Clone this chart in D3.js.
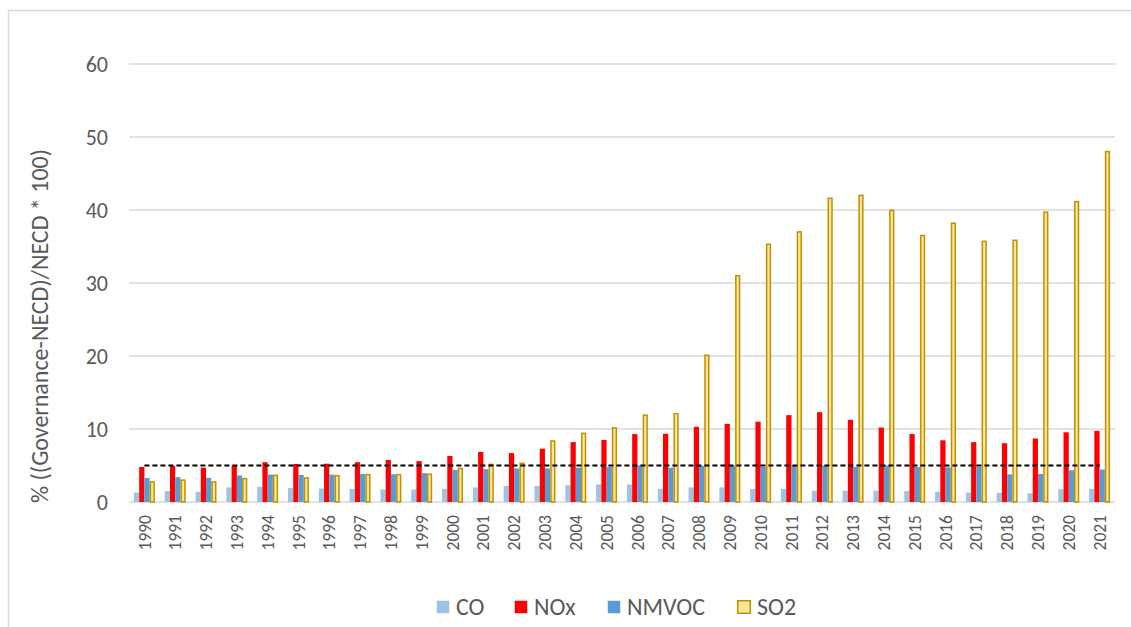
<!DOCTYPE html>
<html>
<head>
<meta charset="utf-8">
<script src="https://cdn.jsdelivr.net/npm/d3@7"></script>
<style>
body{margin:0;background:#fff;font-family:Calibri,Carlito,Lato,sans-serif;}
</style>
</head>
<body>
<div id="chart"></div>
<script>
const years=["1990","1991","1992","1993","1994","1995","1996","1997","1998","1999","2000","2001","2002","2003","2004","2005","2006","2007","2008","2009","2010","2011","2012","2013","2014","2015","2016","2017","2018","2019","2020","2021"];
const co=[1.3,1.5,1.4,2.0,2.1,1.9,1.85,1.8,1.7,1.7,1.8,2.0,2.2,2.2,2.3,2.4,2.4,1.8,2.0,2.0,1.8,1.8,1.55,1.55,1.55,1.5,1.4,1.3,1.25,1.2,1.75,1.8];
const nox=[4.8,4.95,4.7,5.0,5.45,5.2,5.25,5.45,5.75,5.6,6.3,6.85,6.7,7.3,8.2,8.5,9.3,9.35,10.3,10.7,11.0,11.9,12.3,11.25,10.2,9.3,8.45,8.2,8.05,8.7,9.55,9.75];
const nmvoc=[3.3,3.4,3.3,3.65,3.75,3.7,3.75,3.85,3.8,3.95,4.4,4.5,4.6,4.6,4.7,4.8,5.0,4.7,4.95,5.0,4.8,5.0,5.0,4.8,5.0,4.8,4.75,4.8,3.8,3.85,4.35,4.45];
const so2=[2.75,3.0,2.75,3.2,3.65,3.3,3.6,3.75,3.75,3.8,4.6,5.15,5.3,8.35,9.4,10.15,11.9,12.1,20.1,31.0,35.3,37.0,41.6,42.0,39.95,36.5,38.2,35.7,35.85,39.7,41.15,48.0];
const target=5;
const yTicks=[0,10,20,30,40,50,60];
const seriesNames=["CO","NOx","NMVOC","SO2"];
const seriesData=[co,nox,nmvoc,so2];
const fills=["#9DC3E6","#FF0000","#5B9BD5","#FFE699"];
const strokes=["none","none","none","#BF9000"];

const W=1131,H=627;
const m={left:129,right:16,top:64,bottom:125};
const font="Calibri,Carlito,Lato,sans-serif";
const svg=d3.select("#chart").append("svg").attr("width",W).attr("height",H);

// outer frame
svg.append("rect").attr("x",8.5).attr("y",10.5).attr("width",W).attr("height",H)
  .attr("fill","none").attr("stroke","#d9d9d9").attr("stroke-width",1.5);

const x=d3.scaleBand().domain(years).range([m.left,W-m.right]).paddingInner(0.32).paddingOuter(0.16);
const xs=d3.scaleBand().domain(seriesNames).range([0,x.bandwidth()]);
const y=d3.scaleLinear().domain([0,60]).range([H-m.bottom,m.top]);

// gridlines
svg.append("g").selectAll("line").data(yTicks).join("line")
  .attr("x1",m.left).attr("x2",W-m.right)
  .attr("y1",d=>y(d)).attr("y2",d=>y(d))
  .attr("stroke","#d9d9d9").attr("stroke-width",1.5);

// y axis labels
const yAxis=d3.axisLeft(y).tickValues(yTicks).tickSize(0).tickPadding(21);
const gy=svg.append("g").attr("transform","translate("+m.left+",0)").call(yAxis);
gy.select(".domain").remove();
gy.selectAll("text").attr("fill","#595959").style("font-size","22px").style("font-family",font);

// bars
seriesNames.forEach(function(s,i){
  svg.append("g").selectAll("rect").data(seriesData[i]).join("rect")
    .attr("x",(d,j)=>x(years[j])+xs(s)+(i==3?0.75:0))
    .attr("width",xs.bandwidth()-(i==3?1.5:0))
    .attr("y",d=>y(d))
    .attr("height",d=>y(0)-y(d))
    .attr("fill",fills[i])
    .attr("stroke",strokes[i])
    .attr("stroke-width",1.5);
});

// dashed target line
const line=d3.line().x(d=>x(d)+x.bandwidth()/2).y(()=>y(target));
svg.append("path").datum(years).attr("d",line)
  .attr("fill","none").attr("stroke","#000").attr("stroke-width",2).attr("stroke-dasharray","5,3");

// x axis labels
const xAxis=d3.axisBottom(x).tickSize(0).tickPadding(0);
const gx=svg.append("g").attr("transform","translate(0,"+y(0)+")").call(xAxis);
gx.select(".domain").remove();
gx.selectAll("text")
  .attr("transform","rotate(-90)")
  .attr("x",-13).attr("y",0).attr("dy","0.35em")
  .style("text-anchor","end")
  .attr("fill","#595959").style("font-size","17.5px").style("font-family",font);

// y title
svg.append("text").attr("transform","translate(40,326) rotate(-90)")
  .attr("text-anchor","middle").attr("dy","0.35em")
  .attr("fill","#595959").style("font-size","24px").style("font-family",font)
  .text("% ((Governance-NECD)/NECD * 100)");

// legend
const legX=[436,514,607,737];
const leg=svg.append("g");
seriesNames.forEach(function(s,i){
  const g=leg.append("g").attr("transform","translate("+legX[i]+",607)");
  g.append("rect").attr("x",0.75).attr("y",-6.25).attr("width",12.5).attr("height",12.5)
    .attr("fill",fills[i]).attr("stroke",strokes[i]).attr("stroke-width",1.5);
  g.append("text").attr("x",20).attr("dy","0.35em").attr("fill","#595959")
    .style("font-size","24px").style("font-family",font).text(s);
});
</script>
</body>
</html>
